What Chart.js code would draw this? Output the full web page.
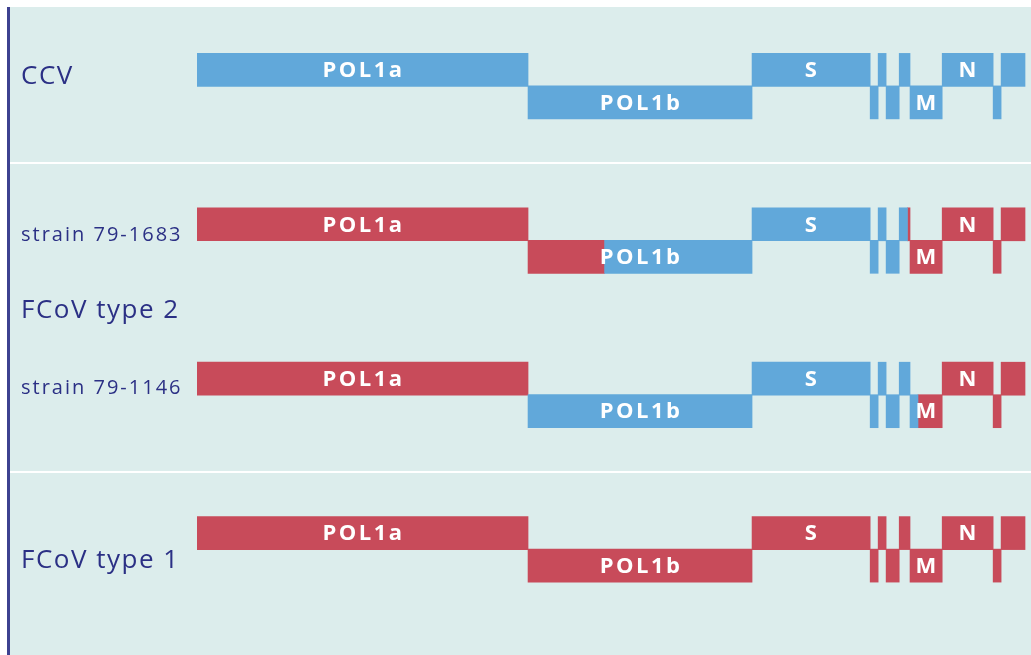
<!DOCTYPE html>
<html>
<head>
<meta charset="utf-8">
<script src="https://cdn.jsdelivr.net/npm/chart.js@4"></script>
<style>
html, body { margin: 0; padding: 0; background: #ffffff; }
#wrap { width: 1031px; height: 655px; position: relative; }
</style>
</head>
<body>
<div id="wrap"><canvas id="genomeChart"></canvas></div>
<script>
// genome rows, top to bottom
const strains = ['CCV', 'strain 79-1683', 'strain 79-1146', 'FCoV type 1'];
const rowPos = [0, 4.75, 9.5, 14.25];

// gene blocks along the genome (kb); lane 0 = upper track, 1 = lower track
const geneNames = ['POL1a', 'POL1b', 'S', '', '', '', '', 'M', 'N', '', ''];
const geneStart = [0, 11.63, 19.50, 23.65, 23.93, 24.21, 24.67, 25.05, 26.18, 27.97, 28.25];
const geneEnd = [11.63, 19.50, 23.65, 23.93, 24.21, 24.67, 25.05, 26.18, 27.97, 28.25, 29.09];
const geneLane = [0, 1, 0, 1, 0, 1, 0, 1, 0, 1, 0];

// stretch of each genome that comes from CCV (blue), the rest is FCoV (red)
const ccvFrom = [0, 14.32, 11.63, null];
const ccvTo = [29.09, 24.96, 25.33, null];

// labels on the left
const sideLabels = ['CCV', 'strain 79-1683', 'FCoV type 2', 'strain 79-1146', 'FCoV type 1'];
const sideLabelPos = [0.2, 5.1, 7.4, 9.8, 15.1];
const sideLabelSize = [26, 20, 26, 20, 26];

// white lines between the groups
const groupBreaks = [2.875, 12.375];

const blue = '#61a8da';
const red = '#c84b5a';
const bgColor = '#dcedec';
const navy = '#2b3085';

// split every gene into its CCV and FCoV pieces
const bluePieces = [];
const redPieces = [];
strains.forEach((s, r) => {
    geneStart.forEach((start, g) => {
        const end = geneEnd[g];
        const y = rowPos[r] + geneLane[g];
        const from = ccvFrom[r];
        const to = ccvTo[r];
        if (from === null) {
            redPieces.push({ x: [start, end], y: y });
            return;
        }
        if (start < from) redPieces.push({ x: [start, Math.min(end, from)], y: y });
        const a = Math.max(start, from);
        const b = Math.min(end, to);
        if (b > a) bluePieces.push({ x: [a, b], y: y });
        if (end > to) redPieces.push({ x: [Math.max(start, to), end], y: y });
    });
});

const decorPlugin = {
    id: 'genomeDecor',
    beforeDraw(chart) {
        const ctx = chart.ctx;
        const w = chart.width, h = chart.height;
        const yScale = chart.scales.y;
        ctx.save();
        ctx.fillStyle = '#ffffff';
        ctx.fillRect(0, 0, w, h);
        ctx.fillStyle = bgColor;
        ctx.fillRect(10, 7, w - 10, h - 7);
        ctx.fillStyle = '#3d4190';
        ctx.fillRect(7, 7, 3, h - 7);

        ctx.strokeStyle = '#ffffff';
        ctx.lineWidth = 2;
        groupBreaks.forEach(v => {
            const p = Math.round(yScale.getPixelForValue(v));
            ctx.beginPath();
            ctx.moveTo(10, p);
            ctx.lineTo(w, p);
            ctx.stroke();
        });

        ctx.fillStyle = navy;
        ctx.textAlign = 'left';
        ctx.textBaseline = 'middle';
        sideLabels.forEach((txt, i) => {
            ctx.font = sideLabelSize[i] + 'px "Open Sans"';
            ctx.letterSpacing = sideLabelSize[i] > 22 ? '1.5px' : '2px';
            ctx.fillText(txt, 21, yScale.getPixelForValue(sideLabelPos[i]));
        });
        ctx.restore();
    },
    afterDatasetsDraw(chart) {
        const ctx = chart.ctx;
        const xScale = chart.scales.x;
        const yScale = chart.scales.y;
        ctx.save();
        ctx.fillStyle = '#ffffff';
        ctx.font = 'bold 22px "Open Sans"';
        ctx.letterSpacing = '2.5px';
        ctx.textAlign = 'center';
        ctx.textBaseline = 'middle';
        strains.forEach((s, r) => {
            geneNames.forEach((name, g) => {
                if (!name) return;
                const cx = xScale.getPixelForValue((geneStart[g] + geneEnd[g]) / 2);
                const cy = yScale.getPixelForValue(rowPos[r] + geneLane[g]);
                ctx.fillText(name, cx + 1, cy + 1);
            });
        });
        ctx.restore();
    }
};

const ctx = document.getElementById('genomeChart').getContext('2d');
new Chart(ctx, {
    type: 'bar',
    data: {
        datasets: [
            { label: 'CCV', data: bluePieces, backgroundColor: blue },
            { label: 'FCoV', data: redPieces, backgroundColor: red }
        ]
    },
    options: {
        indexAxis: 'y',
        responsive: true,
        maintainAspectRatio: false,
        animation: false,
        grouped: false,
        barThickness: 33,
        borderWidth: 0,
        layout: { padding: { left: 197, right: 0, top: 0, bottom: 0 } },
        plugins: {
            legend: { display: false },
            tooltip: { enabled: false }
        },
        scales: {
            x: { type: 'linear', min: 0, max: 29.3, offset: false, display: false },
            y: { type: 'linear', min: -2.15, max: 18.0, reverse: true, offset: false, display: false }
        }
    },
    plugins: [decorPlugin]
});
</script>
</body>
</html>
